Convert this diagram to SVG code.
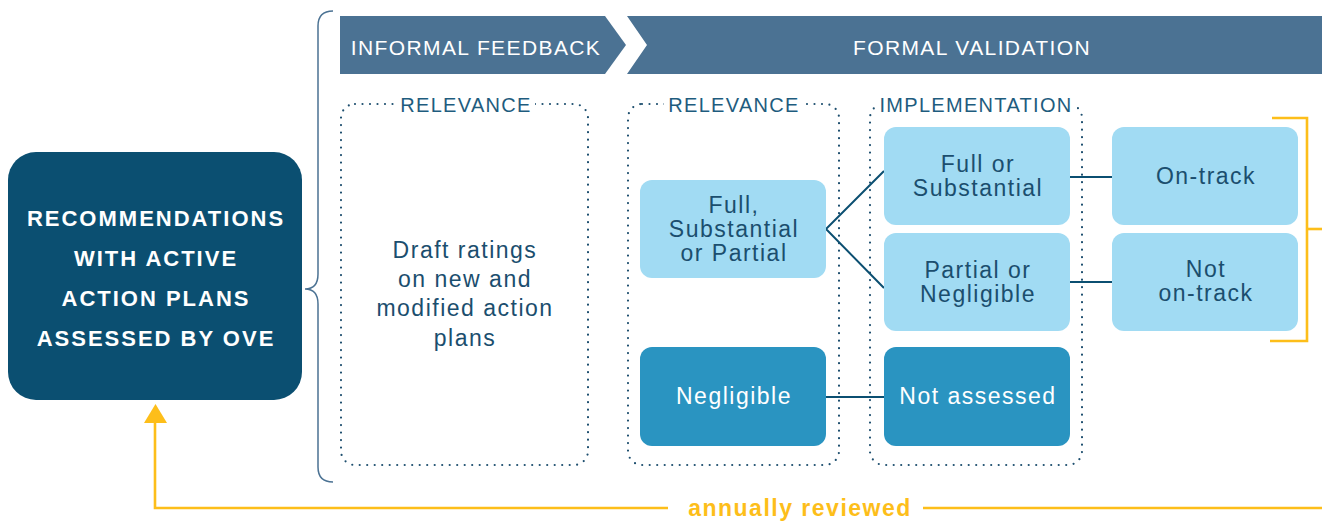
<svg xmlns="http://www.w3.org/2000/svg" width="1322" height="522" viewBox="0 0 1322 522">
<style>
.hdr{fill:#4B7293}
.hdrt{font-family:"Liberation Sans",Arial,sans-serif;font-size:21px;fill:#fff;letter-spacing:1.4px;text-anchor:middle}
.dot{fill:none;stroke:#1E4F6F;stroke-width:2.2;stroke-dasharray:0 7.5;stroke-linecap:round}
.lbl{font-family:"Liberation Sans",Arial,sans-serif;font-size:20px;fill:#1E5C7E;letter-spacing:1.3px;text-anchor:middle}
.lt{fill:#A1DBF3}
.md{fill:#2A94C1}
.t{font-family:"Liberation Sans",Arial,sans-serif;font-size:23px;letter-spacing:1.5px;text-anchor:middle}
.td{fill:#1B4E6E}
.tw{fill:#fff}
.con{stroke:#0B4F71;stroke-width:2;fill:none}
.yel{stroke:#FDBE1A;stroke-width:2.6;fill:none}
</style>
<g id="header">
<polygon class="hdr" points="340,16 605,16 626,45 605,74 340,74"/>
<text class="hdrt" x="476" y="55">INFORMAL FEEDBACK</text>
<polygon class="hdr" points="627,16 1322,16 1322,74 627,74 647,45"/>
<text class="hdrt" x="972" y="55">FORMAL VALIDATION</text>
</g>
<g id="brace">
<path d="M333,11 Q318,11 318,26 L318,274 Q318,289 305,289 Q318,289 318,304 L318,467 Q318,482 333,482" fill="none" stroke="#4B7293" stroke-width="1.5"/>
</g>
<g id="source">
<rect x="8" y="152" width="294" height="248" rx="28" fill="#0B4F71"/>
<g font-family="'Liberation Sans',Arial,sans-serif" font-size="22" font-weight="bold" fill="#fff" letter-spacing="2" text-anchor="middle">
<text x="156" y="226">RECOMMENDATIONS</text>
<text x="156" y="266">WITH ACTIVE</text>
<text x="156" y="306">ACTION PLANS</text>
<text x="156" y="346">ASSESSED BY OVE</text>
</g>
</g>
<g id="box-informal">
<rect class="dot" x="341" y="104" width="247" height="361" rx="14"/>
<rect x="396" y="92" width="139" height="24" fill="#fff"/>
<text class="lbl" x="466" y="112">RELEVANCE</text>
<text class="t td" x="465" y="258">Draft ratings</text>
<text class="t td" x="465" y="287">on new and</text>
<text class="t td" x="465" y="316">modified action</text>
<text class="t td" x="465" y="346">plans</text>
</g>
<g id="box-relevance">
<rect class="dot" x="628" y="104" width="211" height="361" rx="14"/>
<rect x="664" y="92" width="139" height="24" fill="#fff"/>
<text class="lbl" x="734" y="112">RELEVANCE</text>
</g>
<g id="box-implementation">
<rect class="dot" x="870" y="104" width="212" height="361" rx="14"/>
<rect x="875" y="92" width="202" height="24" fill="#fff"/>
<text class="lbl" x="976" y="112">IMPLEMENTATION</text>
</g>
<g id="connectors">
<polyline class="con" points="884,171 826,229 884,288"/>
<line class="con" x1="826" y1="397" x2="884" y2="397"/>
<line class="con" x1="1070" y1="177" x2="1112" y2="177"/>
<line class="con" x1="1070" y1="282" x2="1112" y2="282"/>
</g>
<g id="n-full-sub-partial">
<rect class="lt" x="640" y="180" width="186" height="98" rx="12"/>
<text class="t td" x="734" y="213">Full,</text>
<text class="t td" x="734" y="237">Substantial</text>
<text class="t td" x="734" y="261">or Partial</text>
</g>
<g id="n-negligible">
<rect class="md" x="640" y="347" width="186" height="99" rx="12"/>
<text class="t tw" x="734" y="404">Negligible</text>
</g>
<g id="n-full-sub">
<rect class="lt" x="884" y="127" width="186" height="98" rx="12"/>
<text class="t td" x="978" y="172">Full or</text>
<text class="t td" x="978" y="196">Substantial</text>
</g>
<g id="n-partial-neg">
<rect class="lt" x="884" y="233" width="186" height="98" rx="12"/>
<text class="t td" x="978" y="278">Partial or</text>
<text class="t td" x="978" y="302">Negligible</text>
</g>
<g id="n-not-assessed">
<rect class="md" x="884" y="347" width="186" height="99" rx="12"/>
<text class="t tw" x="978" y="404">Not assessed</text>
</g>
<g id="n-on-track">
<rect class="lt" x="1112" y="127" width="186" height="98" rx="12"/>
<text class="t td" x="1206" y="184">On-track</text>
</g>
<g id="n-not-on-track">
<rect class="lt" x="1112" y="233" width="186" height="98" rx="12"/>
<text class="t td" x="1206" y="277">Not</text>
<text class="t td" x="1206" y="301">on-track</text>
</g>
<g id="review-loop">
<polyline class="yel" points="1272,118 1307,118 1307,341 1270,341"/>
<line class="yel" x1="1307" y1="229" x2="1322" y2="229"/>
<polyline class="yel" points="668,508 155,508 155,421"/>
<line class="yel" x1="923" y1="508" x2="1322" y2="508"/>
<polygon points="144,423 155.5,404 167,423" fill="#FDBE1A"/>
<text x="800" y="516" font-family="'Liberation Sans',Arial,sans-serif" font-size="23" font-weight="bold" fill="#FDBE1A" letter-spacing="1.5" text-anchor="middle">annually reviewed</text>
</g>
</svg>
